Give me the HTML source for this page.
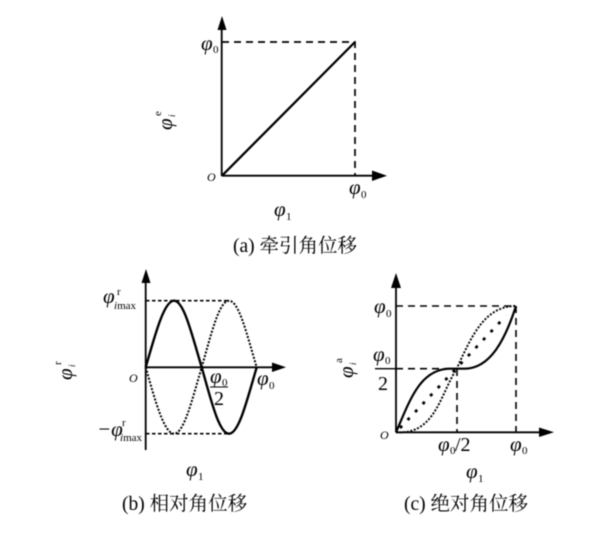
<!DOCTYPE html>
<html><head><meta charset="utf-8">
<style>
html,body{margin:0;padding:0;background:#fff;width:600px;height:536px;overflow:hidden}
svg{display:block;filter:blur(.45px)}
text{font-family:"Liberation Serif","Noto Serif CJK SC",serif;fill:#000}
.p{font-style:italic;font-size:21px}
.s{font-size:11px}
.c{font-size:19.5px}
</style></head><body>
<svg width="600" height="536" viewBox="0 0 600 536">
<g fill="none" stroke="#000">
<!-- a -->
<path d="M221.7 176V24M221.7 175.7H375" stroke-width="1.8"/>
<path d="M222 42H355V175" stroke-width="1.7" stroke-dasharray="7 5"/>
<path d="M222 175.7L355 42" stroke-width="2.3"/>
<!-- b -->
<path d="M145.7 450V278M145.7 367.3H275" stroke-width="1.8"/>
<path d="M146 300.7H229M146 433.7H229" stroke-width="1.6" stroke-dasharray="3.5 2.5"/>
<path d="M145.7 367.3C155 335 164 300.7 174 300.7C184 300.7 192 335 201.7 367.3C211 400 219 433.7 229 433.7C239 433.7 247 400 256.7 367.3" stroke-width="2.4"/>
<path d="M145.7 367.3C155 400 164 433.7 174 433.7C184 433.7 192 400 201.7 367.3C211 335 219 300.7 229 300.7C239 300.7 247 335 256.7 367.3" stroke-width="2" stroke-dasharray="2 1.6"/>
<!-- c -->
<path d="M396 432.3V284M396 432.3H542" stroke-width="1.8"/>
<path d="M396 306H516V432M396 368.7H457M457 369V432" stroke-width="1.6" stroke-dasharray="7 5"/>
<path d="M396 432.3C410 400 420 369 450 368.7H464C490 369 505 340 516 306" stroke-width="2.2"/>
<path d="M396 432.3C435 435 440 395 456.7 368.7C472 335 485 306 516 306" stroke-width="1.9" stroke-dasharray="2 1.6"/>
<path d="M400 428L502 320" stroke-width="2.8" stroke-dasharray="3 8"/>
<path d="M375 368.7H396" stroke-width="1.4"/>
<!-- fraction b -->
<path d="M210 387H228" stroke-width="1.1"/>
</g>
<g fill="#000">
<path d="M222 16L217.5 30H226.5Z"/>
<path d="M387 175.7L372 170.5V181Z"/>
<path d="M146 269L141.5 283H150.5Z"/>
<path d="M286 367.3L272 362.5V372Z"/>
<path d="M396 273L391 288H401Z"/>
<path d="M554 432.3L539 427.5V437Z"/>
</g>
<!-- a labels -->
<text class="p" x="201" y="50">φ</text><text class="s" x="213" y="53">0</text>
<text class="p" x="349" y="194">φ</text><text class="s" x="361" y="198">0</text>
<text class="p" x="274" y="216">φ</text><text class="s" x="286" y="220">1</text>
<text x="207" y="181" font-size="12" font-style="italic">O</text>
<g transform="translate(172 130) rotate(-90)"><text class="p" x="0" y="0">φ</text><text class="s" x="14" y="-11">e</text><text x="13" y="3" font-size="9" font-style="italic">i</text></g>
<text class="c" x="233" y="252">(a) 牵引角位移</text>
<!-- b labels -->
<text class="p" x="103" y="303">φ</text><text class="s" x="117" y="295">r</text><text x="114" y="309" font-size="11"><tspan font-style="italic">i</tspan>max</text>
<text class="p" x="97" y="436">−φ</text><text class="s" x="122" y="426">r</text><text x="120" y="441" font-size="11"><tspan font-style="italic">i</tspan>max</text>
<text x="129" y="382" font-size="12" font-style="italic">O</text>
<text class="p" x="210" y="383">φ</text><text class="s" x="222" y="386">0</text>
<text x="214" y="405" font-size="20">2</text>
<text class="p" x="257" y="385">φ</text><text class="s" x="269" y="389">0</text>
<text class="p" x="186" y="476">φ</text><text class="s" x="198" y="480">1</text>
<g transform="translate(72 380) rotate(-90)"><text class="p" x="0" y="0">φ</text><text class="s" x="15" y="-11">r</text><text x="13" y="3" font-size="9" font-style="italic">i</text></g>
<text class="c" x="122" y="510">(b) 相对角位移</text>
<!-- c labels -->
<text class="p" x="374" y="313">φ</text><text class="s" x="386" y="317">0</text>
<text class="p" x="373" y="361">φ</text><text class="s" x="385" y="364">0</text>
<text x="378" y="390" font-size="20">2</text>
<text x="380" y="439" font-size="12" font-style="italic">O</text>
<text class="p" x="438" y="451">φ</text><text class="s" x="450" y="454">0</text><text x="455" y="451" font-size="20">/2</text>
<text class="p" x="510" y="451">φ</text><text class="s" x="522" y="454">0</text>
<text class="p" x="466" y="478">φ</text><text class="s" x="478" y="482">1</text>
<g transform="translate(353 378) rotate(-90)"><text class="p" x="0" y="0">φ</text><text class="s" x="15" y="-11">a</text><text x="13" y="3" font-size="9" font-style="italic">i</text></g>
<text class="c" x="404" y="510">(c) 绝对角位移</text>
</svg>
</body></html>
